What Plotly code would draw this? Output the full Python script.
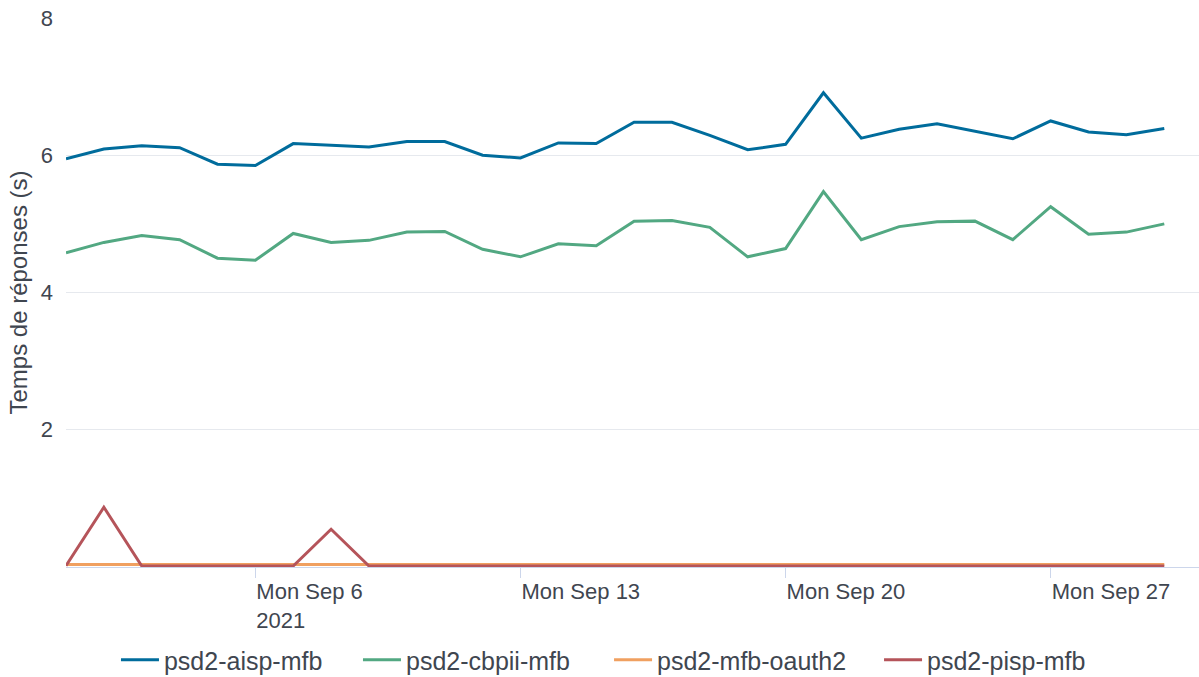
import plotly.graph_objects as go
import pandas as pd

dates = pd.date_range("2021-09-01", "2021-09-30", freq="D")

aisp = [5.95, 6.09, 6.14, 6.11, 5.87, 5.85, 6.17, 6.14, 6.12, 6.20, 6.20, 6.00, 5.96, 6.18, 6.17,
        6.48, 6.48, 6.29, 6.08, 6.16, 6.91, 6.25, 6.38, 6.46, 6.35, 6.24, 6.50, 6.34, 6.30, 6.39]
cbpii = [4.58, 4.73, 4.83, 4.77, 4.50, 4.47, 4.86, 4.73, 4.76, 4.88, 4.89, 4.63, 4.52, 4.71, 4.68,
         5.04, 5.05, 4.95, 4.52, 4.64, 5.47, 4.77, 4.96, 5.03, 5.04, 4.77, 5.25, 4.85, 4.88, 5.00]
oauth2 = [0.035] * 30
pisp = [0.02, 0.87, 0.015, 0.015, 0.015, 0.015, 0.015, 0.55, 0.015, 0.015, 0.015, 0.015, 0.015, 0.015, 0.015,
        0.015, 0.015, 0.015, 0.015, 0.015, 0.015, 0.015, 0.015, 0.015, 0.015, 0.015, 0.015, 0.015, 0.015, 0.015]

series_names = ["psd2-aisp-mfb", "psd2-cbpii-mfb", "psd2-mfb-oauth2", "psd2-pisp-mfb"]
series_values = [aisp, cbpii, oauth2, pisp]
colors = ["#006c9c", "#52a882", "#f0a060", "#b5545a"]

x_tickvals = ["2021-09-06", "2021-09-13", "2021-09-20", "2021-09-27"]
x_ticktext = ["Mon Sep 6<br>2021", "Mon Sep 13", "Mon Sep 20", "Mon Sep 27"]
y_tickvals = [2, 4, 6, 8]

font_family = "Liberation Sans, Arial, sans-serif"
text_color = "#3f4650"

# one legend per series so entries sit at the reference's spacing
legend_ids = ["legend", "legend2", "legend3", "legend4"]
legend_x = [0.0441, 0.2577, 0.4793, 0.7176]

fig = go.Figure()
for name, vals, col, lid in zip(series_names, series_values, colors, legend_ids):
    fig.add_trace(go.Scatter(x=dates, y=vals, name=name, mode="lines",
                             line=dict(color=col, width=3), legend=lid))

legend_layout = {}
for lid, lx in zip(legend_ids, legend_x):
    legend_layout[lid] = dict(orientation="h", x=lx, xanchor="left",
                              yref="container", y=0.025, yanchor="middle",
                              font=dict(size=25, color=text_color), itemwidth=38,
                              bgcolor="rgba(0,0,0,0)")

fig.update_layout(
    width=1199, height=677,
    margin=dict(l=66, r=0, t=18, b=110),
    plot_bgcolor="white", paper_bgcolor="white",
    font=dict(family=font_family, color=text_color, size=22),
    showlegend=True,
    xaxis=dict(
        type="date",
        range=["2021-09-01", "2021-09-30 22:00"],
        tickvals=x_tickvals, ticktext=x_ticktext,
        ticklabelposition="outside right",
        ticks="outside", ticklen=10, tickcolor="#ccd6eb", tickwidth=1,
        ticklabelstandoff=5,
        showgrid=False, showline=True, linecolor="#ccd6eb", linewidth=1,
        zeroline=False, automargin=False,
        tickfont=dict(size=22, color=text_color),
    ),
    yaxis=dict(
        range=[0, 8],
        tickvals=y_tickvals,
        showgrid=True, gridcolor="#e6e9ee", gridwidth=1,
        zeroline=False, showline=False, automargin=False,
        tickfont=dict(size=22, color=text_color),
        ticklabelstandoff=12,
        title=dict(text="Temps de réponses (s)", font=dict(size=24, color=text_color), standoff=6),
    ),
    **legend_layout,
)

fig.write_html("out.html", config={"displayModeBar": False},
               post_script="document.body.style.margin='0px';")
